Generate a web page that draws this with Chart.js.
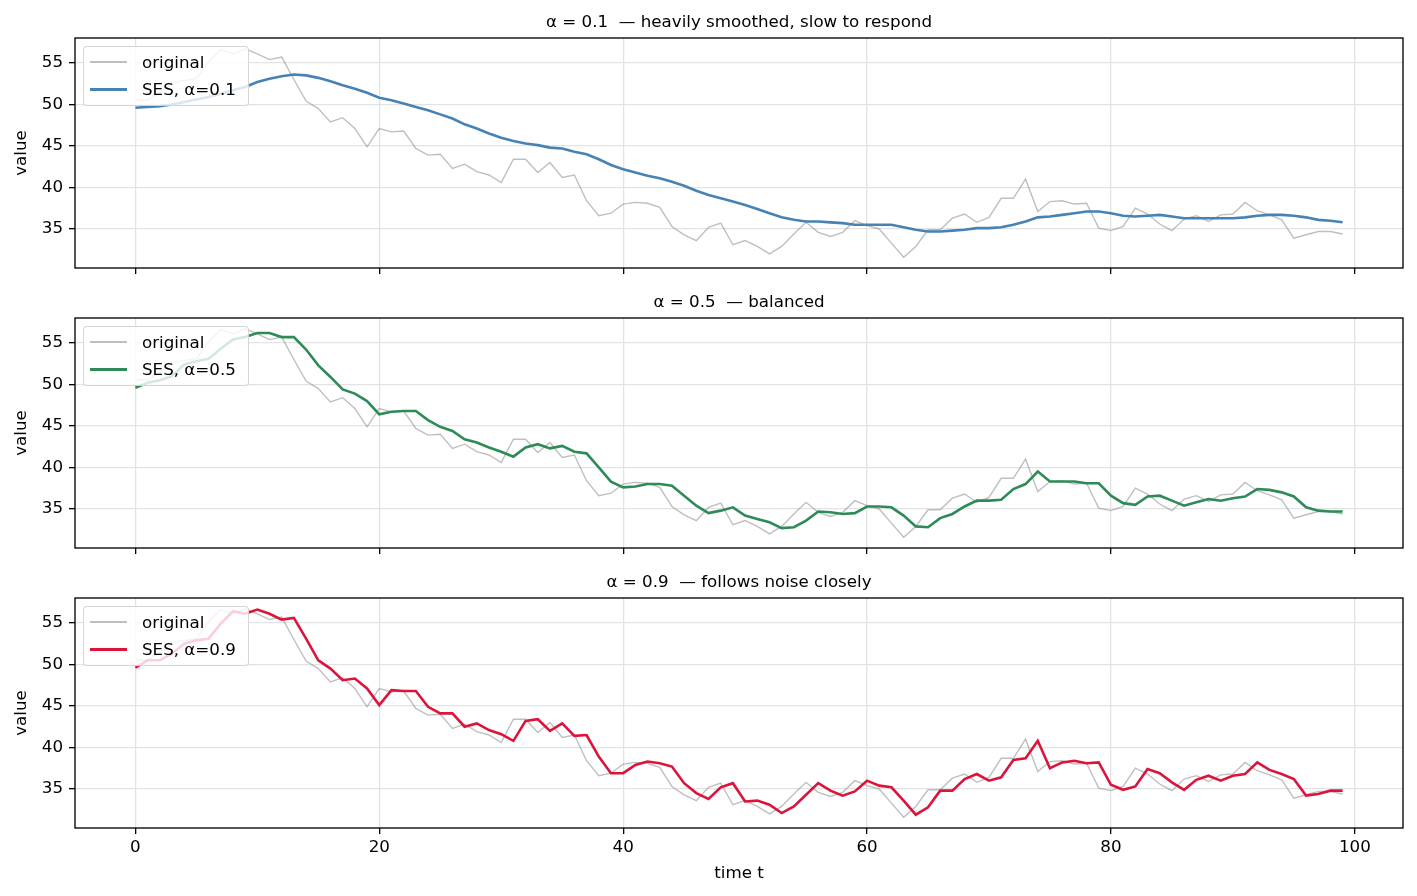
<!DOCTYPE html>
<html>
<head>
<meta charset="utf-8">
<script src="https://cdn.jsdelivr.net/npm/chart.js@4"></script>
<style>
  body { margin: 0; background: #fff; }
  #fig { position: relative; width: 1417px; height: 896px; font-family: "DejaVu Sans", sans-serif; }
  #fig canvas { position: absolute; left: 0; }
  .legend {
    position: absolute; left: 83px; width: 166px; height: 60px; box-sizing: border-box;
    border: 1px solid rgba(204, 204, 204, 0.8); border-radius: 4px;
    background: rgba(255, 255, 255, 0.8); font-size: 16.7px; color: #000;
  }
  .legend .row { position: absolute; left: 0; height: 20px; line-height: 20px; white-space: nowrap; }
  .legend .swatch { position: absolute; left: 6px; width: 37px; }
  .legend .label { position: absolute; left: 58px; top: 0; }
</style>
</head>
<body>
<div id="fig"></div>
<script>
// time index 0..99
const timeT = [...Array(100).keys()];

const original = [
  50.6, 50.5, 51.4, 52.6, 52.9, 53.1, 55.1, 56.6, 56.1,
  56.7, 56.1, 55.4, 55.7, 53.0, 50.4, 49.5, 47.9, 48.4, 47.1, 44.9, 47.1, 46.7, 46.8, 44.7,
  43.9, 44.0, 42.3, 42.8, 41.9, 41.5, 40.6, 43.4, 43.4, 41.8, 43.0, 41.2, 41.5, 38.4, 36.6, 36.9,
  38.0, 38.2, 38.1, 37.6, 35.3, 34.3, 33.6, 35.2, 35.7, 33.1, 33.6, 32.9,
  32.0, 32.9, 34.4, 35.8, 34.6, 34.1, 34.6, 36.0, 35.4, 35.0, 33.3, 31.6, 32.9, 34.9, 34.9, 36.3,
  36.8, 35.8, 36.4, 38.7, 38.7, 41.0, 37.1, 38.3, 38.4, 38.0, 38.1,
  35.1, 34.8, 35.3, 37.5, 36.8, 35.6, 34.8, 36.2, 36.6, 35.9, 36.7, 36.8, 38.2, 37.2, 36.7, 36.1,
  33.9, 34.3, 34.7, 34.7, 34.4
];

const ses01 = [
  49.6, 49.7, 49.8, 50.0, 50.3, 50.6, 50.9, 51.3, 51.7, 52.1, 52.7, 53.1, 53.4, 53.6, 53.5, 53.2,
  52.8, 52.3, 51.9, 51.4, 50.8, 50.5, 50.1, 49.7,
  49.3, 48.8, 48.3, 47.6, 47.1, 46.5, 46.0, 45.6, 45.3, 45.1, 44.8, 44.7, 44.3, 44.0, 43.4, 42.7,
  42.2, 41.8, 41.4, 41.1, 40.7, 40.2, 39.6, 39.1, 38.7, 38.3, 37.9,
  37.4, 36.9, 36.4, 36.1, 35.9, 35.9, 35.8, 35.7, 35.5, 35.5, 35.5, 35.5, 35.2, 34.9, 34.7, 34.7,
  34.8, 34.9, 35.1, 35.1, 35.2, 35.5, 35.9, 36.4, 36.5, 36.7, 36.9, 37.1,
  37.1, 36.9, 36.6, 36.5, 36.6, 36.7, 36.5, 36.3, 36.3, 36.3, 36.3, 36.3, 36.4, 36.6, 36.7, 36.7,
  36.6, 36.4, 36.1, 36.0, 35.8
];

const ses05 = [
  49.6, 50.2, 50.5, 51.0, 52.4, 52.8, 53.1, 54.3, 55.4, 55.7, 56.2, 56.2, 55.7, 55.7, 54.2, 52.3,
  50.9, 49.4, 48.9, 48.0, 46.4, 46.7, 46.8, 46.8,
  45.7, 44.9, 44.4, 43.4, 43.0, 42.4, 41.9, 41.3, 42.4, 42.8, 42.3, 42.6, 41.9, 41.7, 40.0, 38.3,
  37.6, 37.7, 38.0, 38.0, 37.8, 36.6, 35.4, 34.5, 34.8, 35.2,
  34.2, 33.8, 33.4, 32.7, 32.8, 33.6, 34.7, 34.6, 34.4, 34.5, 35.3, 35.3, 35.2, 34.2, 32.9, 32.8,
  33.9, 34.4, 35.3, 36.0, 36.0, 36.1, 37.4, 38.0, 39.5, 38.3, 38.3, 38.3, 38.1,
  38.1, 36.6, 35.7, 35.5, 36.5, 36.6, 36.0, 35.4, 35.8, 36.2, 36.0, 36.3, 36.5, 37.4, 37.3, 37.0,
  36.5, 35.2, 34.8, 34.7, 34.7
];

const ses09 = [
  49.6, 50.5, 50.5, 51.3, 52.5, 52.9, 53.1, 54.9, 56.4, 56.1, 56.6, 56.1, 55.4, 55.6, 53.1, 50.5,
  49.5, 48.1, 48.3, 47.1, 45.1, 46.9, 46.8, 46.8,
  44.9, 44.1, 44.1, 42.5, 42.9, 42.1, 41.6, 40.8, 43.2, 43.4, 42.0, 42.9, 41.4, 41.5, 38.9, 36.9,
  36.9, 37.9, 38.3, 38.1, 37.7, 35.7, 34.5, 33.8, 35.2, 35.7,
  33.5, 33.6, 33.1, 32.1, 32.9, 34.3, 35.7, 34.8, 34.2, 34.7, 36.0, 35.4, 35.2, 33.6, 31.9, 32.8,
  34.8, 34.8, 36.2, 36.8, 36.0, 36.4, 38.5, 38.7, 40.8, 37.5, 38.2, 38.4, 38.1,
  38.2, 35.5, 34.9, 35.3, 37.4, 36.9, 35.8, 34.9, 36.1, 36.6, 36.0, 36.6, 36.8, 38.2, 37.3, 36.8,
  36.2, 34.2, 34.4, 34.8, 34.8
];

const alphas = ['0.1', '0.5', '0.9'];
const titles = [
  'α = 0.1  — heavily smoothed, slow to respond',
  'α = 0.5  — balanced',
  'α = 0.9  — follows noise closely'
];
const sesSeries = [ses01, ses05, ses09];
const sesColors = ['#4682b4', '#2e8b57', '#dc143c'];

const xTicks = [0, 20, 40, 60, 80, 100];
const yTicks = [35, 40, 45, 50, 55];

const FONT = '"DejaVu Sans", sans-serif';
const FS = 16.7;
const GRID = '#e3e3e3';
const ORIG_COLOR = 'rgba(128, 128, 128, 0.5)';

// axes box, centred title and (bottom panel only) x tick labels, matplotlib style
const framePlugin = {
  id: 'frame',
  afterDraw(chart, args, opts) {
    const { ctx, chartArea: a } = chart;
    ctx.save();
    ctx.strokeStyle = '#000';
    ctx.lineWidth = 1.33;
    ctx.strokeRect(a.left, a.top, a.right - a.left, a.bottom - a.top);
    ctx.fillStyle = '#000';
    ctx.font = FS + 'px ' + FONT;
    ctx.textAlign = 'center';
    ctx.textBaseline = 'middle';
    ctx.fillText(opts.text, (a.left + a.right) / 2, 22.5);
    if (opts.xLabels) {
      const xs = chart.scales.x;
      xTicks.forEach(v => ctx.fillText(String(v), xs.getPixelForValue(v), a.bottom + 19.5));
    }
    ctx.restore();
  }
};

const fig = document.getElementById('fig');
const panelTops = [0, 280, 560];
const panelHeights = [280, 280, 336];

function toPoints(values) {
  return values.map((v, i) => ({ x: timeT[i], y: v }));
}

alphas.forEach((alpha, p) => {
  const isLast = p === alphas.length - 1;
  const h = panelHeights[p];

  const canvas = document.createElement('canvas');
  canvas.width = 1417;
  canvas.height = h;
  canvas.style.top = panelTops[p] + 'px';
  fig.appendChild(canvas);

  const datasets = [
    {
      label: 'original',
      data: toPoints(original),
      borderColor: ORIG_COLOR,
      borderWidth: 1.4,
      order: 2
    },
    {
      label: 'SES, α=' + alpha,
      data: toPoints(sesSeries[p]),
      borderColor: sesColors[p],
      borderWidth: 2.6,
      order: 1
    }
  ];

  new Chart(canvas.getContext('2d'), {
    type: 'line',
    data: { datasets },
    options: {
      responsive: false,
      animation: false,
      events: [],
      layout: { padding: { top: 38, right: 14, left: 0, bottom: 0 } },
      elements: { point: { radius: 0 }, line: { tension: 0 } },
      plugins: {
        legend: { display: false },
        tooltip: { enabled: false },
        frame: { text: titles[p], xLabels: isLast }
      },
      scales: {
        x: {
          type: 'linear',
          min: -4.95,
          max: 103.95,
          afterBuildTicks: s => { s.ticks = xTicks.map(v => ({ value: v })); },
          afterFit: s => {
            s.height = h - 268;
            s.paddingLeft = 0; s.paddingRight = 0;
          },
          grid: { color: GRID, lineWidth: 1.3, tickColor: '#000', tickLength: 6, tickWidth: 1.33 },
          border: { display: false },
          ticks: { display: false },
          title: {
            display: isLast, text: 'time t', color: '#000',
            font: { family: FONT, size: FS }, padding: { top: 0, bottom: 12 }
          }
        },
        y: {
          min: 30.3,
          max: 58.0,
          afterBuildTicks: s => { s.ticks = yTicks.map(v => ({ value: v })); },
          afterFit: s => {
            s.width = 75;
            s.paddingTop = 0; s.paddingBottom = 0;
          },
          grid: { color: GRID, lineWidth: 1.3, tickColor: '#000', tickLength: 6, tickWidth: 1.33 },
          border: { display: false },
          ticks: { color: '#000', padding: 6, font: { family: FONT, size: FS } },
          title: {
            display: true, text: 'value', color: '#000',
            font: { family: FONT, size: FS }, padding: { top: 12, bottom: 0 }
          }
        }
      }
    },
    plugins: [framePlugin]
  });

  // legend box in the upper-left of the axes
  const legend = document.createElement('div');
  legend.className = 'legend';
  legend.style.top = (panelTops[p] + 38 + 8) + 'px';
  const rowCentres = [15, 42.4];
  datasets.forEach((ds, i) => {
    const row = document.createElement('div');
    row.className = 'row';
    row.style.top = (rowCentres[i] - 10) + 'px';
    const sw = document.createElement('div');
    sw.className = 'swatch';
    sw.style.height = ds.borderWidth + 'px';
    sw.style.top = (10 - ds.borderWidth / 2) + 'px';
    sw.style.background = ds.borderColor;
    const lab = document.createElement('span');
    lab.className = 'label';
    lab.textContent = ds.label;
    row.appendChild(sw);
    row.appendChild(lab);
    legend.appendChild(row);
  });
  fig.appendChild(legend);
});
</script>
</body>
</html>
